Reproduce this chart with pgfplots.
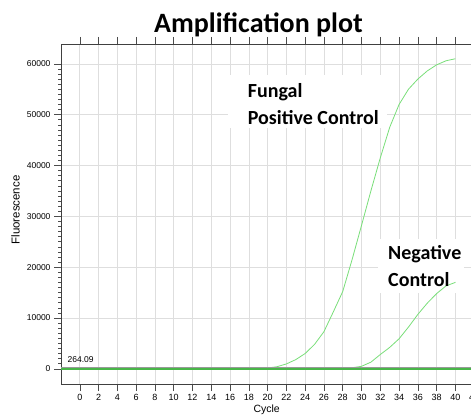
\documentclass[border=0pt]{standalone}
\usepackage{pgfplots}
\pgfplotsset{compat=1.18}
\usepackage{fontspec}
\setmainfont{Liberation Sans}
\newfontfamily\carlito{Carlito}
\definecolor{curve}{RGB}{120,222,120}
\definecolor{basec}{RGB}{72,182,72}
\definecolor{gridc}{RGB}{222,222,222}
\begin{document}
\begin{tikzpicture}
\begin{axis}[
  at={(0,0)}, anchor=south west,
  scale only axis, width=422.6pt, height=340pt,
  xmin=-2, xmax=43, ymin=-3000, ymax=63900,
  xtick={0,2,...,42}, ytick={0,10000,...,60000},
  minor y tick num=9,
  tick align=outside,
  major tick length=7pt, minor tick length=3pt,
  grid=major, major grid style={gridc, line width=0.6pt},
  axis line style={black!75, line width=0.6pt},
  tick style={black!70, line width=0.5pt},
  scaled y ticks=false,
  /pgf/number format/assume math mode=true,
  /pgf/number format/1000 sep={},
  yticklabel style={font=\fontsize{8.5}{9}\selectfont},
  xticklabel style={font=\fontsize{9}{10}\selectfont},
  clip=true,
]
\fill[white] (axis cs:15.8,47300) rectangle (axis cs:32.7,57800);
\fill[white] (axis cs:31.8,14900) rectangle (axis cs:40.9,25530);
\addplot[curve, line width=0.8pt] coordinates {
(1,0)(2,0)(3,0)(4,0)(5,0)(6,0)(7,0)(8,0)(9,0)(10,0)(11,0)(12,0)(13,0)(14,0)(15,0)(16,0)(17,0)(18,0)
(19,50)(20,150)(21,400)(22,950)(23,1800)(24,3000)(25,4800)(26,7300)(27,11200)(28,15200)(29,21500)
(30,28200)(31,35000)(32,41500)(33,47500)(34,52000)(35,55000)(36,57000)(37,58600)(38,59800)(39,60600)(40,61000)};
\addplot[curve, line width=0.8pt] coordinates {
(1,0)(2,0)(3,0)(4,0)(5,0)(6,0)(7,0)(8,0)(9,0)(10,0)(11,0)(12,0)(13,0)(14,0)(15,0)(16,0)(17,0)(18,0)
(19,0)(20,0)(21,0)(22,0)(23,0)(24,0)(25,0)(26,0)(27,0)(28,50)(29,200)(30,480)(31,1300)(32,2800)
(33,4200)(34,5900)(35,8200)(36,10700)(37,12900)(38,14800)(39,16300)(40,17000)};
\addplot[basec, line width=1.8pt] coordinates {(-2,-60) (43,-60)};
\addplot[black!40, line width=0.7pt] coordinates {(-2,285) (43,285)};
\end{axis}
\node[anchor=base, inner sep=0pt, font=\carlito\bfseries\fontsize{28}{30}\selectfont] at (197.5pt,351pt) {Amplification plot};
\node[anchor=base west, inner sep=0pt, font=\carlito\bfseries\fontsize{20}{24}\selectfont] at (186.7pt,286pt) {Fungal};
\node[anchor=base west, inner sep=0pt, font=\carlito\bfseries\fontsize{20}{24}\selectfont] at (186.7pt,259pt) {Positive Control};
\node[anchor=base west, inner sep=0pt, font=\carlito\bfseries\fontsize{20}{24}\selectfont] at (327pt,124pt) {Negative};
\node[anchor=base west, inner sep=0pt, font=\carlito\bfseries\fontsize{20}{24}\selectfont] at (327pt,97pt) {Control};
\node[anchor=west, inner sep=0pt, font=\fontsize{8.5}{9}\selectfont] at (6.5pt,24pt) {264.09};
\node[inner sep=0pt, font=\fontsize{10.5}{12}\selectfont] at (205.7pt,-26pt) {Cycle};
\node[inner sep=0pt, rotate=90, font=\fontsize{11.5}{13}\selectfont] at (-45.5pt,174pt) {Fluorescence};
\pgfresetboundingbox
\path[use as bounding box] (-61pt,-31pt) rectangle (410pt,384pt);
\end{tikzpicture}
\end{document}
